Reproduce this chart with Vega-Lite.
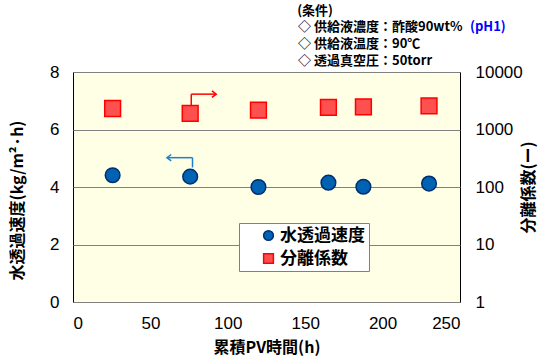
{
  "$schema": "https://vega.github.io/schema/vega-lite/v6.json",
  "width": 387,
  "height": 230,
  "autosize": {"type": "none"},
  "padding": {"left": 73, "top": 72, "right": 83, "bottom": 58},
  "background": "white",
  "config": {
    "view": {"fill": "#FFFFE6", "stroke": "#000000", "strokeWidth": 1},
    "font": "Noto Sans CJK JP",
    "axis": {
      "labelFont": "Liberation Sans",
      "labelFontSize": 17,
      "labelColor": "#000000",
      "titleFont": "Noto Sans CJK JP",
      "titleFontSize": 16,
      "titleFontWeight": "bold",
      "titleColor": "#000000"
    },
    "legend": {
      "orient": "none",
      "legendX": 166,
      "legendY": 151,
      "fillColor": "#FFFFFF",
      "strokeColor": "#808080",
      "padding": 4,
      "symbolOffset": 17,
      "symbolSize": 95,
      "symbolStrokeWidth": 1.5,
      "rowPadding": 5,
      "labelOffset": 3,
      "labelFont": "Noto Sans CJK JP",
      "labelFontSize": 17,
      "labelFontWeight": "bold",
      "labelColor": "#000000"
    }
  },
  "datasets": {
    "flux": [
      {"t": 25.6, "v": 4.41, "s": "水透過速度"},
      {"t": 75.7, "v": 4.36, "s": "水透過速度"},
      {"t": 119.8, "v": 4.0, "s": "水透過速度"},
      {"t": 165.0, "v": 4.15, "s": "水透過速度"},
      {"t": 187.6, "v": 4.01, "s": "水透過速度"},
      {"t": 230.0, "v": 4.12, "s": "水透過速度"}
    ],
    "sep": [
      {"t": 25.6, "v": 2318, "s": "分離係数"},
      {"t": 75.7, "v": 1905, "s": "分離係数"},
      {"t": 119.8, "v": 2168, "s": "分離係数"},
      {"t": 165.0, "v": 2423, "s": "分離係数"},
      {"t": 187.6, "v": 2478, "s": "分離係数"},
      {"t": 230.0, "v": 2570, "s": "分離係数"}
    ],
    "redArrow": [
      {"x": 76.4, "y": 6.81, "x2": 76.4, "y2": 7.23},
      {"x": 76.4, "y": 7.23, "x2": 92.5, "y2": 7.23}
    ],
    "blueArrow": [
      {"x": 77.2, "y": 4.68, "x2": 77.2, "y2": 5.02},
      {"x": 77.2, "y": 5.02, "x2": 60.7, "y2": 5.02}
    ],
    "redHead": [{"x": 92.5, "y": 7.23}],
    "blueHead": [{"x": 60.7, "y": 5.02}],
    "notes": [
      {"x": 144.8, "y": 10.13, "text": "(条件)"},
      {"x": 145.4, "y": 9.56, "text": "◇ 供給液濃度：酢酸90wt%"},
      {"x": 145.4, "y": 8.99, "text": "◇ 供給液温度：90℃"},
      {"x": 145.4, "y": 8.4, "text": "◇ 透過真空圧：50torr"}
    ],
    "note2": [
      {"x": 256.5, "y": 9.56, "text": "(pH1)"}
    ]
  },
  "layer": [
    {
      "data": {"name": "flux"},
      "mark": {"type": "point", "shape": "circle", "filled": true, "size": 215, "strokeWidth": 1.5, "opacity": 1},
      "encoding": {
        "x": {
          "field": "t", "type": "quantitative",
          "scale": {"domain": [0, 250], "nice": false},
          "axis": {
            "orient": "bottom", "values": [0, 50, 100, 150, 200, 250],
            "title": "累積PV時間(h)", "grid": false, "domain": false,
            "ticks": false, "labelPadding": 13, "titlePadding": 8
          }
        },
        "y": {
          "field": "v", "type": "quantitative",
          "scale": {"domain": [0, 8], "nice": false},
          "axis": {
            "orient": "left", "values": [0, 2, 4, 6, 8],
            "title": "水透過速度(kg/m²·h)", "grid": true, "gridColor": "#808080",
            "domain": false, "ticks": false, "labelPadding": 14, "titlePadding": 24,
            "titleY": 128
          }
        },
        "fill": {
          "field": "s", "type": "nominal",
          "scale": {"domain": ["水透過速度", "分離係数"], "range": ["#0062B2", "#FF5050"]},
          "legend": {"title": null, "labelExpr": "datum.label + '　 '"}
        },
        "stroke": {
          "field": "s", "type": "nominal",
          "scale": {"domain": ["水透過速度", "分離係数"], "range": ["#002E6E", "#FF0000"]},
          "legend": {"title": null, "labelExpr": "datum.label + '　 '"}
        },
        "shape": {
          "field": "s", "type": "nominal",
          "scale": {"domain": ["水透過速度", "分離係数"], "range": ["circle", "square"]},
          "legend": {"title": null, "labelExpr": "datum.label + '　 '"}
        }
      }
    },
    {
      "data": {"name": "sep"},
      "mark": {"type": "point", "filled": true, "size": 250, "strokeWidth": 1.5, "opacity": 1},
      "encoding": {
        "x": {"field": "t", "type": "quantitative", "scale": {"domain": [0, 250], "nice": false}},
        "y": {
          "field": "v", "type": "quantitative",
          "scale": {"type": "log", "domain": [1, 10000], "nice": false},
          "axis": {
            "orient": "right", "values": [1, 10, 100, 1000, 10000], "format": "d",
            "title": "分離係数(ー)", "titleAngle": 270, "grid": false,
            "domain": false, "ticks": false, "labelPadding": 15, "titlePadding": 14
          }
        },
        "fill": {"field": "s", "type": "nominal", "legend": {"title": null, "labelExpr": "datum.label + '　 '"}},
        "stroke": {"field": "s", "type": "nominal", "legend": {"title": null, "labelExpr": "datum.label + '　 '"}},
        "shape": {"field": "s", "type": "nominal", "legend": {"title": null, "labelExpr": "datum.label + '　 '"}}
      }
    },
    {
      "data": {"name": "redArrow"},
      "mark": {"type": "rule", "color": "#FF0000", "strokeWidth": 1.5},
      "encoding": {
        "x": {"field": "x", "type": "quantitative", "scale": {"domain": [0, 250], "nice": false}},
        "x2": {"field": "x2"},
        "y": {"field": "y", "type": "quantitative", "scale": {"domain": [0, 8], "nice": false}, "axis": null},
        "y2": {"field": "y2"}
      }
    },
    {
      "data": {"name": "blueArrow"},
      "mark": {"type": "rule", "color": "#1E7FCC", "strokeWidth": 1.5},
      "encoding": {
        "x": {"field": "x", "type": "quantitative", "scale": {"domain": [0, 250], "nice": false}},
        "x2": {"field": "x2"},
        "y": {"field": "y", "type": "quantitative", "scale": {"domain": [0, 8], "nice": false}, "axis": null},
        "y2": {"field": "y2"}
      }
    },
    {
      "data": {"name": "redHead"},
      "mark": {"type": "point", "shape": "M-1.2,-0.9L0,0L-1.2,0.9", "filled": false, "stroke": "#FF0000", "strokeWidth": 1.5, "size": 50, "opacity": 1},
      "encoding": {
        "x": {"field": "x", "type": "quantitative", "scale": {"domain": [0, 250], "nice": false}},
        "y": {"field": "y", "type": "quantitative", "scale": {"domain": [0, 8], "nice": false}, "axis": null}
      }
    },
    {
      "data": {"name": "blueHead"},
      "mark": {"type": "point", "shape": "M1.2,-0.9L0,0L1.2,0.9", "filled": false, "stroke": "#1E7FCC", "strokeWidth": 1.5, "size": 50, "opacity": 1},
      "encoding": {
        "x": {"field": "x", "type": "quantitative", "scale": {"domain": [0, 250], "nice": false}},
        "y": {"field": "y", "type": "quantitative", "scale": {"domain": [0, 8], "nice": false}, "axis": null}
      }
    },
    {
      "data": {"name": "notes"},
      "mark": {"type": "text", "align": "left", "baseline": "middle", "fontSize": 13, "font": "Noto Sans CJK JP", "fontWeight": "bold", "color": "#000000"},
      "encoding": {
        "x": {"field": "x", "type": "quantitative", "scale": {"domain": [0, 250], "nice": false}},
        "y": {"field": "y", "type": "quantitative", "scale": {"domain": [0, 8], "nice": false}, "axis": null},
        "text": {"field": "text"}
      }
    },
    {
      "data": {"name": "note2"},
      "mark": {"type": "text", "align": "left", "baseline": "middle", "fontSize": 13, "font": "Noto Sans CJK JP", "fontWeight": "bold", "color": "#0000FF"},
      "encoding": {
        "x": {"field": "x", "type": "quantitative", "scale": {"domain": [0, 250], "nice": false}},
        "y": {"field": "y", "type": "quantitative", "scale": {"domain": [0, 8], "nice": false}, "axis": null},
        "text": {"field": "text"}
      }
    }
  ],
  "resolve": {"scale": {"y": "independent"}}
}
